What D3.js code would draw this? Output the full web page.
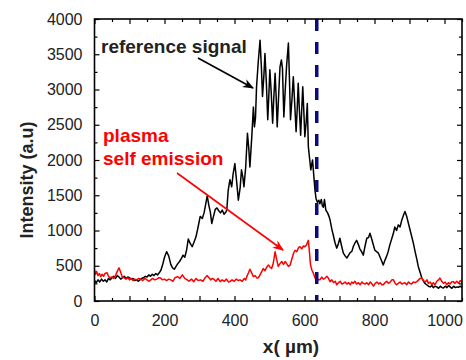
<!DOCTYPE html>
<html>
<head>
<meta charset="utf-8">
<script src="https://cdn.jsdelivr.net/npm/d3@7"></script>
<style>
  body { margin: 0; background: #fff; }
  svg { font-family: "Liberation Sans", Arial, sans-serif; }
</style>
</head>
<body>
<svg id="chart" width="466" height="360"></svg>
<script>
// reference signal, [x in um, intensity]
const referenceSignal = [
  [0,290],[5,260],[10,300],[15,270],[20,310],[25,280],[30,300],[35,270],[40,320],[45,300],
  [50,330],[55,350],[60,320],[65,360],[70,340],[75,310],[80,330],[85,350],[90,320],[95,340],
  [100,330],[105,310],[110,320],[115,290],[120,300],[125,280],[130,300],[135,320],[140,330],[145,350],
  [150,340],[155,370],[160,350],[165,380],[170,360],[175,390],[180,370],[185,400],[190,440],[195,520],
  [200,620],[206,700],[212,640],[218,520],[223,470],[228,450],[233,490],[238,530],[243,560],[248,600],
  [253,650],[258,620],[263,720],[268,880],[273,820],[279,770],[284,830],[290,910],[296,1050],[302,1200],
  [308,1170],[313,1250],[318,1380],[322,1490],[327,1350],[331,1260],[335,1100],[340,1200],[345,1300],[350,1320],
  [355,1280],[360,1250],[365,1290],[370,1230],[375,1260],[378,1290],[382,1570],[387,1720],[392,1620],[396,1800],
  [401,1950],[406,1700],[411,1430],[416,1600],[420,1860],[424,1750],[427,1620],[432,1900],[437,2380],[441,2150],
  [444,1900],[449,2300],[454,2750],[457,2470],[460,2600],[463,3040],[468,3400],[473,3700],[477,3300],[480,2900],
  [484,3200],[487,3510],[491,3100],[495,2570],[498,2900],[501,3280],[505,2950],[509,2520],[512,2850],[516,3230],
  [519,2900],[522,2470],[526,2900],[530,3320],[534,3420],[537,3300],[541,2610],[545,3000],[549,3350],[554,3660],
  [557,3150],[560,2570],[564,2850],[568,3180],[572,2800],[576,2400],[579,2700],[582,3090],[585,2750],[589,2350],
  [592,2700],[595,3040],[598,2700],[601,2330],[605,2550],[608,2800],[611,2190],[615,2000],[618,1860],[621,1950],
  [623,2000],[627,1750],[630,1570],[633,1450],[637,1400],[641,1430],[644,1380],[648,1440],[651,1350],[654,1330],
  [657,1440],[661,1290],[666,1250],[670,1200],[673,1150],[678,1020],[682,940],[687,830],[692,750],[696,800],
  [701,890],[706,780],[711,680],[716,640],[721,610],[726,650],[731,690],[735,700],[740,780],[745,830],
  [749,860],[754,800],[758,740],[763,700],[768,650],[773,780],[778,890],[783,900],[787,960],[792,880],
  [797,790],[801,720],[806,700],[811,680],[816,620],[821,560],[825,510],[830,580],[835,640],[839,700],
  [844,800],[849,880],[854,960],[858,1050],[863,1000],[868,1080],[873,1050],[878,1150],[883,1220],[887,1270],
  [892,1200],[897,1100],[902,1000],[907,900],[911,820],[916,700],[921,590],[925,490],[930,410],[935,330],
  [940,280],[944,250],[949,230],[954,210],[959,200],[964,220],[968,190],[973,210],[978,200],[983,180],
  [988,210],[993,190],[997,185],[1002,210],[1007,190],[1012,220],[1016,200],[1021,180],[1026,210],[1031,190],
  [1036,200],[1040,195],[1045,210],[1050,190]
];

// plasma self emission, [x in um, intensity]
const selfEmission = [
  [0,440],[3,380],[6,420],[10,360],[14,390],[18,345],[22,380],[26,350],[30,390],[36,400],
  [40,350],[45,330],[50,340],[55,320],[60,360],[65,420],[70,470],[74,420],[79,345],[84,330],
  [90,310],[95,330],[100,300],[105,320],[110,290],[115,310],[120,300],[126,320],[132,310],[138,290],
  [144,320],[150,300],[155,280],[161,300],[166,320],[172,300],[178,310],[184,330],[189,325],[194,300],
  [200,310],[206,290],[212,310],[218,300],[224,280],[230,330],[237,345],[244,320],[251,370],[258,320],
  [265,300],[270,280],[277,310],[284,275],[290,320],[296,290],[303,300],[310,280],[316,330],[322,360],
  [327,330],[332,300],[337,320],[341,310],[347,280],[353,320],[359,275],[365,300],[371,280],[377,310],
  [383,270],[387,275],[393,300],[399,280],[405,310],[411,290],[416,300],[422,280],[428,320],[432,300],
  [435,345],[440,400],[444,450],[449,400],[454,345],[459,360],[464,325],[468,330],[473,370],[478,420],
  [482,460],[487,430],[492,480],[497,510],[502,480],[506,460],[510,520],[513,600],[516,700],[520,600],
  [525,490],[530,530],[535,560],[540,520],[545,560],[549,530],[554,490],[559,510],[564,600],[569,680],
  [573,720],[578,700],[583,760],[587,770],[592,740],[597,780],[601,770],[605,790],[608,820],[611,860],
  [614,700],[617,520],[621,440],[625,400],[630,325],[634,350],[639,300],[644,300],[649,340],[654,310],
  [659,325],[664,350],[668,325],[673,275],[678,300],[683,260],[688,280],[692,230],[697,260],[702,280],
  [707,240],[711,250],[716,270],[721,240],[726,260],[731,230],[735,270],[739,250],[744,280],[749,240],
  [754,260],[759,230],[764,270],[768,250],[773,240],[778,260],[783,230],[788,270],[793,240],[797,210],
  [802,250],[807,270],[812,240],[816,260],[821,230],[825,230],[830,260],[835,280],[840,250],[845,270],
  [850,300],[854,300],[858,260],[863,230],[868,250],[873,270],[878,240],[882,250],[887,260],[892,230],
  [897,270],[901,250],[906,240],[911,270],[916,260],[921,275],[926,300],[930,320],[935,325],[940,290],
  [945,270],[950,300],[954,250],[959,270],[964,230],[968,260],[973,230],[978,280],[983,300],[987,325],
  [992,280],[997,250],[1002,270],[1006,230],[1011,260],[1016,240],[1020,270],[1025,275],[1030,250],[1035,280],
  [1040,250],[1045,290],[1050,270]
];

const xLabelTicks = [0, 200, 400, 600, 800, 1000];
const xMajorTicks = [0, 100, 200, 300, 400, 500, 600, 700, 800, 900, 1000];
const xMinorTicks = [50, 150, 250, 350, 450, 550, 650, 750, 850, 950, 1050];
const yLabelTicks = [0, 500, 1000, 1500, 2000, 2500, 3000, 3500, 4000];
const yMinorTicks = [250, 750, 1250, 1750, 2250, 2750, 3250, 3750];
const cutPosition = 635;

const svg = d3.select("#chart");
const margin = {top: 19, right: 4, bottom: 59, left: 94.5};
const width = 466 - margin.left - margin.right;
const height = 360 - margin.top - margin.bottom;

const x = d3.scaleLinear().domain([0, 1050]).range([margin.left, margin.left + width]);
const y = d3.scaleLinear().domain([0, 4000]).range([margin.top + height, margin.top]);

const line = d3.line().x(d => x(d[0])).y(d => y(d[1]));
const fmt = d3.format("d");

// series
svg.append("path").datum(referenceSignal)
  .attr("fill", "none").attr("stroke", "#000").attr("stroke-width", 1.5)
  .attr("stroke-linejoin", "round").attr("d", line);

svg.append("path").datum(selfEmission)
  .attr("fill", "none").attr("stroke", "#ff0000").attr("stroke-width", 1.5)
  .attr("stroke-linejoin", "round").attr("d", line);

// dashed cut line
svg.append("line")
  .attr("x1", x(cutPosition)).attr("x2", x(cutPosition))
  .attr("y1", y(4000)).attr("y2", y(0))
  .attr("stroke", "#0b0b80").attr("stroke-width", 3.5)
  .attr("stroke-dasharray", "12,11");

// axes, ticks pointing inward on all four sides
function styleAxis(g) {
  g.select(".domain").remove();
  g.selectAll("line").attr("stroke", "#000").attr("stroke-width", 1.2);
  g.selectAll("text").attr("fill", "#222").style("font-size", "16px");
}

const bottom = margin.top + height;
const right = margin.left + width;

svg.append("g").attr("transform", `translate(0,${bottom})`)
  .call(d3.axisBottom(x).tickValues(xMajorTicks).tickSize(-5).tickPadding(14)
    .tickFormat(d => xLabelTicks.includes(d) ? fmt(d) : ""))
  .call(styleAxis);
svg.append("g").attr("transform", `translate(0,${bottom})`)
  .call(d3.axisBottom(x).tickValues(xMinorTicks).tickSize(-3).tickFormat(""))
  .call(styleAxis);
svg.append("g").attr("transform", `translate(0,${margin.top})`)
  .call(d3.axisTop(x).tickValues(xMajorTicks).tickSize(-5).tickFormat(""))
  .call(styleAxis);
svg.append("g").attr("transform", `translate(0,${margin.top})`)
  .call(d3.axisTop(x).tickValues(xMinorTicks).tickSize(-3).tickFormat(""))
  .call(styleAxis);

svg.append("g").attr("transform", `translate(${margin.left},0)`)
  .call(d3.axisLeft(y).tickValues(yLabelTicks).tickSize(-5).tickPadding(12).tickFormat(fmt))
  .call(styleAxis);
svg.append("g").attr("transform", `translate(${margin.left},0)`)
  .call(d3.axisLeft(y).tickValues(yMinorTicks).tickSize(-3).tickFormat(""))
  .call(styleAxis);
svg.append("g").attr("transform", `translate(${right},0)`)
  .call(d3.axisRight(y).tickValues(yLabelTicks).tickSize(-5).tickFormat(""))
  .call(styleAxis);
svg.append("g").attr("transform", `translate(${right},0)`)
  .call(d3.axisRight(y).tickValues(yMinorTicks).tickSize(-3).tickFormat(""))
  .call(styleAxis);

// frame
svg.append("rect")
  .attr("x", margin.left).attr("y", margin.top)
  .attr("width", width).attr("height", height)
  .attr("fill", "none").attr("stroke", "#000").attr("stroke-width", 1.6);

// axis titles
svg.append("text")
  .attr("transform", `translate(33,${margin.top + height / 2 + 20}) rotate(-90)`)
  .attr("text-anchor", "middle").attr("fill", "#222")
  .style("font-size", "18px").style("font-weight", "bold")
  .text("Intensity (a.u)");

svg.append("text")
  .attr("x", 291).attr("y", 353)
  .attr("text-anchor", "middle").attr("fill", "#222")
  .style("font-size", "19px").style("font-weight", "bold")
  .text("x( µm)");

// annotations
const defs = svg.append("defs");
[["headBlack", "#000"], ["headRed", "#ff0000"]].forEach(([id, c]) => {
  defs.append("marker").attr("id", id)
    .attr("viewBox", "0 0 10 10").attr("refX", 9).attr("refY", 5)
    .attr("markerWidth", 7).attr("markerHeight", 7).attr("orient", "auto")
    .append("path").attr("d", "M0,1 L10,5 L0,9 L3,5 Z").attr("fill", c);
});

svg.append("text")
  .attr("x", 101).attr("y", 53).attr("fill", "#222")
  .style("font-size", "19px").style("font-weight", "bold")
  .text("reference signal");
svg.append("line")
  .attr("x1", 198).attr("y1", 58).attr("x2", 253).attr("y2", 88)
  .attr("stroke", "#000").attr("stroke-width", 1.6)
  .attr("marker-end", "url(#headBlack)");

svg.append("text")
  .attr("x", 103).attr("y", 142).attr("fill", "#ff0000")
  .style("font-size", "19px").style("font-weight", "bold")
  .text("plasma");
svg.append("text")
  .attr("x", 103).attr("y", 165).attr("fill", "#ff0000")
  .style("font-size", "19px").style("font-weight", "bold")
  .text("self emission");
svg.append("line")
  .attr("x1", 177).attr("y1", 173).attr("x2", 283).attr("y2", 250)
  .attr("stroke", "#ff0000").attr("stroke-width", 1.6)
  .attr("marker-end", "url(#headRed)");
</script>
</body>
</html>
